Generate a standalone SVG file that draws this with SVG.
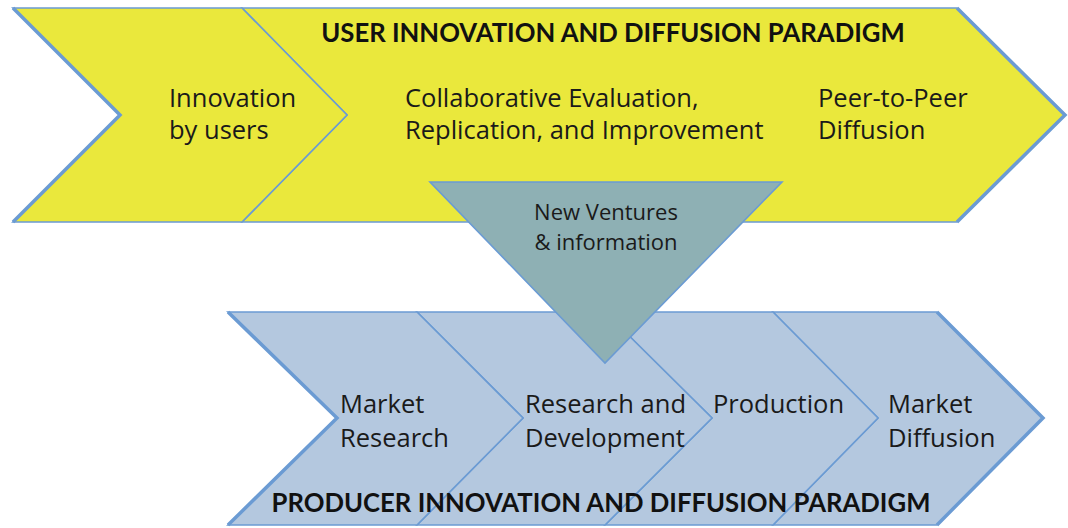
<svg xmlns="http://www.w3.org/2000/svg" width="1068" height="528" viewBox="0 0 1068 528">
<defs>
<style>
.top{fill:#EAE83C;stroke:#6B9BD3;stroke-width:1.6;stroke-linejoin:miter}
.bot{fill:#B4C8DF;stroke:#6B9BD3;stroke-width:1.6}
.tri{fill:#8EB0B4;stroke:#6B9BD3;stroke-width:1.6}
.edge{fill:none;stroke:#6B9BD3;stroke-width:3.5;stroke-linejoin:miter}
.t{font-family:"Open Sans",Lato,sans-serif;font-size:25.5px;fill:#1a1a1a}
.s{font-family:"Open Sans",Lato,sans-serif;font-size:22px;fill:#1a1a1a}
.h{font-family:Lato,"Open Sans",sans-serif;font-size:25.7px;font-weight:bold;fill:#111;text-anchor:middle}
</style>
</defs>
<rect width="1068" height="528" fill="#ffffff"/>
<g id="user-paradigm">
<g id="u2"><polygon class="top" points="242,8 957,8 1065,115 957,222 242,222 347,115"/></g>
<g id="u1"><polygon class="top" points="13,8 242,8 347,115 242,222 13,222 120,115"/></g>
<polyline class="edge" points="13,8 120,115 13,222"/>
<polyline class="edge" points="957,8 1065,115 957,222"/>
<text class="h" x="613" y="42">USER INNOVATION AND DIFFUSION PARADIGM</text>
<text class="t" x="169" y="107">Innovation</text>
<text class="t" x="169" y="139">by users</text>
<text class="t" x="405" y="107">Collaborative Evaluation,</text>
<text class="t" x="405" y="139">Replication, and Improvement</text>
<text class="t" x="818" y="107">Peer-to-Peer</text>
<text class="t" x="818" y="139">Diffusion</text>
</g>
<g id="producer-paradigm">
<g id="p4"><polygon class="bot" points="773,312 937,312 1043,418 937,525 773,525 878,418"/></g>
<g id="p3"><polygon class="bot" points="605,312 773,312 878,418 773,525 605,525 712,418"/></g>
<g id="p2"><polygon class="bot" points="417,312 605,312 712,418 605,525 417,525 523,418"/></g>
<g id="p1"><polygon class="bot" points="228,312 417,312 523,418 417,525 228,525 337,418"/></g>
<polyline class="edge" points="228,312 337,418 228,525"/>
<polyline class="edge" points="937,312 1043,418 937,525"/>
<text class="t" x="340" y="413">Market</text>
<text class="t" x="340" y="447">Research</text>
<text class="t" x="525" y="413">Research and</text>
<text class="t" x="525" y="447">Development</text>
<text class="t" x="713" y="413">Production</text>
<text class="t" x="888" y="413">Market</text>
<text class="t" x="888" y="447">Diffusion</text>
</g>
<g id="new-ventures">
<polygon class="tri" points="430,182 782,182 605,363"/>
<text class="s" x="606" y="220" text-anchor="middle">New Ventures</text>
<text class="s" x="606" y="250" text-anchor="middle">&amp; information</text>
</g>
<g id="connectors"></g>
<text class="h" x="601" y="512">PRODUCER INNOVATION AND DIFFUSION PARADIGM</text>
</svg>
